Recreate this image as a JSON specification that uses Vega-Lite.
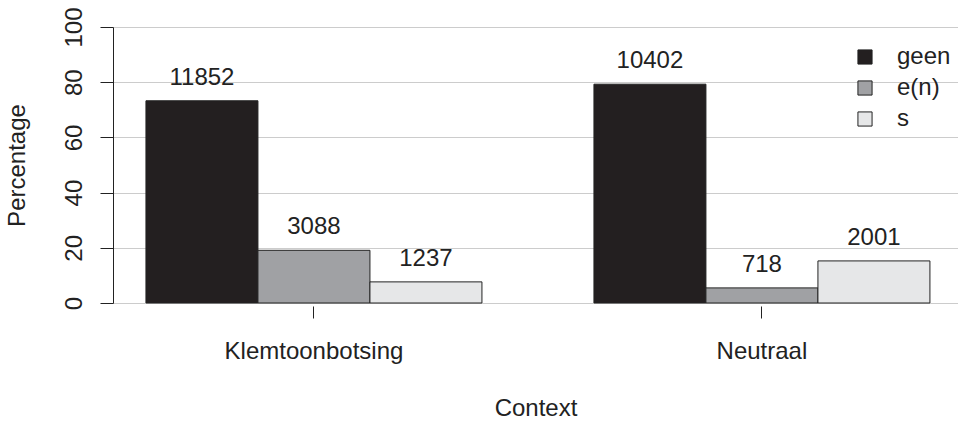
{
  "$schema": "https://vega.github.io/schema/vega-lite/v6.json",
  "autosize": "none",
  "width": 845,
  "height": 276,
  "padding": {"left": 113, "top": 27, "right": 0, "bottom": 121},
  "background": "white",
  "config": {
    "view": {"stroke": null},
    "font": "Liberation Sans",
    "axis": {"labelFont": "Liberation Sans", "titleFont": "Liberation Sans", "labelColor": "#222", "titleColor": "#222", "titleFontWeight": "normal", "labelFontSize": 24, "titleFontSize": 24},
    "legend": {"labelFont": "Liberation Sans"}
  },
  "data": {
    "values": [
      {"Context": "Klemtoonbotsing", "Variant": "geen", "Percentage": 73.27, "Count": 11852},
      {"Context": "Klemtoonbotsing", "Variant": "e(n)", "Percentage": 19.09, "Count": 3088},
      {"Context": "Klemtoonbotsing", "Variant": "s", "Percentage": 7.65, "Count": 1237},
      {"Context": "Neutraal", "Variant": "geen", "Percentage": 79.28, "Count": 10402},
      {"Context": "Neutraal", "Variant": "e(n)", "Percentage": 5.47, "Count": 718},
      {"Context": "Neutraal", "Variant": "s", "Percentage": 15.25, "Count": 2001}
    ]
  },
  "encoding": {
    "x": {
      "field": "Context", "type": "nominal",
      "scale": {"paddingInner": 0.25, "paddingOuter": 0.0681, "align": 0.54},
      "axis": {"labelAngle": 0, "domain": false, "ticks": true, "tickSize": 12, "tickColor": "#222", "tickWidth": 1, "offset": 3, "labelPadding": 21, "title": "Context", "titlePadding": 33, "grid": false}
    },
    "xOffset": {"field": "Variant", "type": "nominal", "sort": ["geen", "e(n)", "s"], "scale": {"paddingInner": 0, "paddingOuter": 0}},
    "y": {
      "field": "Percentage", "type": "quantitative",
      "scale": {"domain": [0, 100], "nice": false, "zero": true},
      "axis": {"values": [0, 20, 40, 60, 80, 100], "grid": true, "gridColor": "#cccccc", "gridWidth": 1, "domainColor": "#222", "tickColor": "#222", "tickSize": 13, "labelAngle": -90, "labelAlign": "center", "labelBaseline": "bottom", "labelPadding": 14, "title": "Percentage", "titlePadding": 33}
    }
  },
  "layer": [
    {
      "mark": {"type": "bar", "stroke": "#222", "strokeWidth": 1},
      "encoding": {
        "color": {
          "field": "Variant", "type": "nominal",
          "scale": {"domain": ["geen", "e(n)", "s"], "range": ["#231f20", "#a0a1a4", "#e6e7e8"]},
          "legend": {"title": null, "orient": "none", "legendX": 740, "legendY": 18, "padding": 0, "symbolType": "square", "symbolSize": 200, "symbolStrokeColor": "#222", "symbolStrokeWidth": 1, "symbolOpacity": 1, "labelFontSize": 24, "labelColor": "#222", "labelOffset": 20, "rowPadding": 7}
        }
      }
    },
    {
      "mark": {"type": "text", "baseline": "alphabetic", "dy": -16, "fontSize": 24, "color": "#222", "font": "Liberation Sans"},
      "encoding": {"text": {"field": "Count", "type": "quantitative", "format": "d"}}
    }
  ]
}
